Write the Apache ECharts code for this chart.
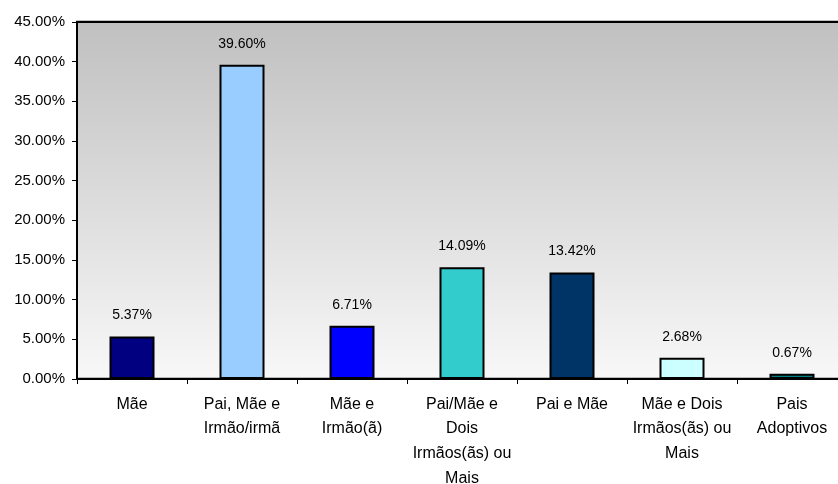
<!DOCTYPE html>
<html>
<head>
<meta charset="utf-8">
<script src="https://cdn.jsdelivr.net/npm/echarts@6/dist/echarts.min.js"></script>
<style>
  html, body { margin: 0; padding: 0; background: #ffffff; }
  #chart { width: 838px; height: 484px; }
</style>
</head>
<body>
<div id="chart"></div>
<script>
// Household composition categories (x axis)
const categories = [
  'Mãe',
  'Pai, Mãe e\nIrmão/irmã',
  'Mãe e\nIrmão(ã)',
  'Pai/Mãe e\nDois\nIrmãos(ãs) ou\nMais',
  'Pai e Mãe',
  'Mãe e Dois\nIrmãos(ãs) ou\nMais',
  'Pais\nAdoptivos'
];
// Percentage of respondents in each category
const percentages = [5.37, 39.60, 6.71, 14.09, 13.42, 2.68, 0.67];
// Fill colour for each bar
const barColors = ['#000080', '#99CCFF', '#0000FF', '#33CCCC', '#003366', '#CCFFFF', '#008080'];
// Value axis range and step
const yMin = 0, yMax = 45, yStep = 5;

const chart = echarts.init(document.getElementById('chart'), null, { renderer: 'canvas' });

const font = 'Liberation Sans, Arial, sans-serif';

chart.setOption({
  animation: false,
  grid: {
    left: 77,
    top: 22,
    width: 770,
    height: 357,
    outerBoundsMode: 'none',
    containLabel: false,
    show: true,
    borderColor: '#000000',
    borderWidth: 2,
    shadowColor: 'rgba(0,0,0,0.25)',
    shadowBlur: 0,
    shadowOffsetY: -1,
    backgroundColor: {
      type: 'linear', x: 0, y: 0, x2: 0, y2: 1,
      colorStops: [
        { offset: 0, color: '#c0c0c0' },
        { offset: 1, color: '#f8f8f8' }
      ]
    }
  },
  xAxis: {
    type: 'category',
    data: categories,
    axisLine: { show: true, lineStyle: { color: '#000000', width: 2 } },
    axisTick: { show: true, alignWithLabel: false, length: 5, lineStyle: { color: '#000000', width: 1 } },
    axisLabel: {
      interval: 0,
      color: '#000000',
      fontFamily: font,
      fontSize: 16,
      lineHeight: 24.7,
      margin: 13
    },
    splitLine: { show: false }
  },
  yAxis: {
    type: 'value',
    min: yMin,
    max: yMax,
    interval: yStep,
    axisLine: { show: true, lineStyle: { color: '#000000', width: 2 } },
    axisTick: { show: true, length: 5, lineStyle: { color: '#000000', width: 1 } },
    axisLabel: {
      color: '#000000',
      fontFamily: font,
      fontSize: 15,
      margin: 12,
      formatter: v => v.toFixed(2) + '%'
    },
    splitLine: { show: false }
  },
  series: [{
    type: 'bar',
    barWidth: 45,
    data: percentages.map((v, i) => ({
      value: v,
      itemStyle: { color: barColors[i] }
    })),
    itemStyle: { borderColor: '#000000', borderWidth: 2 },
    label: {
      show: true,
      position: 'top',
      distance: 14,
      color: '#000000',
      fontFamily: font,
      fontSize: 14,
      formatter: p => p.value.toFixed(2) + '%'
    }
  }]
});
</script>
</body>
</html>
